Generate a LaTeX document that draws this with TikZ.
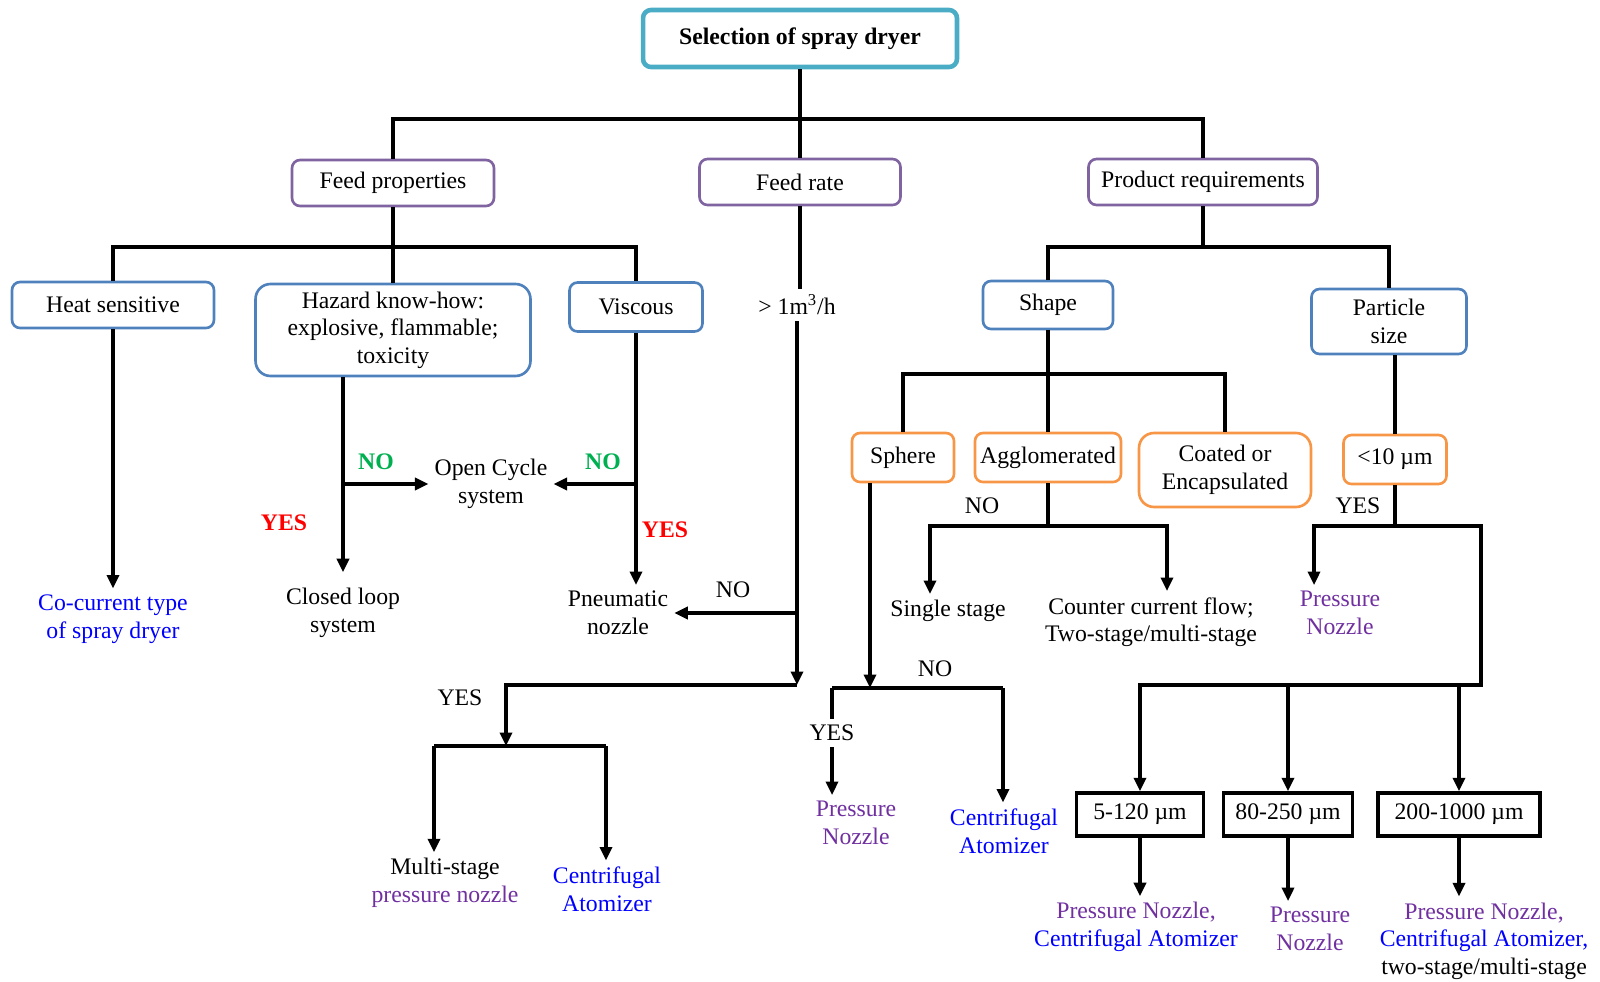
\documentclass[tikz,border=0pt]{standalone}
\usepackage{fontspec}
\setmainfont{Liberation Serif}
\usepackage{tikz}
\usetikzlibrary{arrows.meta,positioning}
\definecolor{rootc}{HTML}{4BACC6}
\definecolor{catc}{HTML}{8064A2}
\definecolor{propc}{HTML}{4F81BD}
\definecolor{optc}{HTML}{F79646}
\definecolor{btext}{HTML}{0000FF}
\definecolor{ptext}{HTML}{7030A0}
\definecolor{gtext}{HTML}{00B050}

\begin{document}
\begin{tikzpicture}[x=0.02cm,y=-0.02cm,font=\fontsize{13.5}{15.7}\selectfont,
  box/.style={draw,rounded corners=0.16cm,line width=1.5pt,align=center,inner sep=0pt},
  rootbox/.style={box,draw=rootc,line width=2.6pt,font=\fontsize{13.5}{15.7}\selectfont\bfseries},
  catbox/.style={box,draw=catc},
  propbox/.style={box,draw=propc},
  optbox/.style={box,draw=optc},
  sizebox/.style={draw,line width=2pt,inner sep=0pt},
  txt/.style={align=center},
  line/.style={line width=1.9pt},
  arr/.style={line,-{Triangle[length=0.27cm,width=0.24cm]}},
  yeslbl/.style={text=red,font=\fontsize{13.5}{15.7}\selectfont\bfseries},
  nolbl/.style={text=gtext,font=\fontsize{13.5}{15.7}\selectfont\bfseries}]
  \useasboundingbox (0,0) rectangle (1600,981);
  \node[rootbox,minimum width=6.28cm,minimum height=1.14cm] (root) at (800,38.5) {Selection of spray dryer};
  \node[catbox,minimum width=4.04cm,minimum height=0.92cm] (fp) at (393,183) {Feed properties};
  \node[catbox,minimum width=4.02cm,minimum height=0.92cm] (fr) at (800,182) {Feed rate};
  \node[catbox,minimum width=4.58cm,minimum height=0.92cm] (pr) at (1203,182) {Product requirements};
  \node[propbox,minimum width=4.04cm,minimum height=0.92cm] (hs) at (113,305) {Heat sensitive};
  \node[propbox,rounded corners=0.3cm,minimum width=5.5cm,minimum height=1.84cm] (hz) at (393,330) {Hazard know-how:\\explosive, flammable;\\toxicity};
  \node[propbox,minimum width=2.66cm,minimum height=0.98cm] (vs) at (636,307) {Viscous};
  \node[propbox,minimum width=2.6cm,minimum height=0.96cm] (sh) at (1048,305) {Shape};
  \node[propbox,minimum width=3.1cm,minimum height=1.3cm] (ps) at (1389,321.5) {Particle\\size};
  \node[optbox,minimum width=2.04cm,minimum height=0.98cm] (sp) at (903,457.5) {Sphere};
  \node[optbox,minimum width=2.92cm,minimum height=0.98cm] (ag) at (1048,457.5) {Agglomerated};
  \node[optbox,rounded corners=0.3cm,minimum width=3.44cm,minimum height=1.48cm] (ce) at (1225,470) {Coated or\\Encapsulated};
  \node[optbox,minimum width=2.06cm,minimum height=0.98cm] (lt) at (1395,459.5) {<10 µm};
  \node[sizebox,minimum width=2.54cm,minimum height=0.86cm] (s1) at (1140,814.5) {5-120 µm};
  \node[sizebox,minimum width=2.58cm,minimum height=0.86cm] (s2) at (1288,814.5) {80-250 µm};
  \node[sizebox,minimum width=3.24cm,minimum height=0.86cm] (s3) at (1459,814.5) {200-1000 µm};
  \node[txt,text=btext] (cc) at (113,619) {Co-current type\\of spray dryer};
  \node[txt] (cl) at (343,613) {Closed loop\\system};
  \node[txt] (oc) at (491,484) {Open Cycle\\system};
  \node[txt] (pn) at (618,613) {Pneumatic\\nozzle};
  \node[txt] (rt) at (797,305) {> 1m\textsuperscript{3}/h};
  \node[txt] (mp) at (445,883) {Multi-stage\\\textcolor{ptext}{pressure nozzle}};
  \node[txt,text=btext] (ca1) at (607,889) {Centrifugal\\Atomizer};
  \node[txt] (ss) at (948,611) {Single stage};
  \node[txt] (cf) at (1151,622) {Counter current flow;\\Two-stage/multi-stage};
  \node[txt,text=ptext] (pn2) at (856,823) {Pressure\\Nozzle};
  \node[txt,text=btext] (ca2) at (1004,831) {Centrifugal\\Atomizer};
  \node[txt,text=ptext] (pn3) at (1340,613) {Pressure\\Nozzle};
  \node[txt] (t1) at (1136,927) {\textcolor{ptext}{Pressure Nozzle,}\\\textcolor{btext}{Centrifugal Atomizer}};
  \node[txt,text=ptext] (t2) at (1310,929) {Pressure\\Nozzle};
  \node[txt] (t3) at (1484,941) {\textcolor{ptext}{Pressure Nozzle,}\\\textcolor{btext}{Centrifugal Atomizer,}\\two-stage/multi-stage};
  \node[nolbl] (no1) at (376,462) {NO};
  \node[nolbl] (no2) at (603,462) {NO};
  \node[yeslbl] (yes1) at (284,523) {YES};
  \node[yeslbl] (yes2) at (665,530) {YES};
  \node (no3) at (733,590) {NO};
  \node (yes3) at (460,698) {YES};
  \node (no4) at (982,506) {NO};
  \node (no5) at (935,669) {NO};
  \node (yes4) at (832,733) {YES};
  \node (yes5) at (1358,506) {YES};
  \coordinate (rb) at (800,119);
  \coordinate (fb) at (393,247);
  \coordinate (pb) at (1203,247);
  \coordinate (sb) at (1048,374);
  \coordinate (abl) at (930,526);
  \coordinate (abr) at (1167,526);
  \coordinate (fy) at (797,685);
  \coordinate (mb) at (506,746);
  \coordinate (mbl) at (434,746);
  \coordinate (mbr) at (606,746);
  \coordinate (sy) at (870,688);
  \coordinate (sl) at (832,688);
  \coordinate (sr) at (1003,688);
  \coordinate (lbl) at (1314,526);
  \coordinate (lbr) at (1481,526);
  \coordinate (kb) at (1481,685);
  \draw[line] (root) -- (fr);
  \draw[line] (fp) |- (rb) -| (pr);
  \draw[line] (fp) -- (hz);
  \draw[line] (hs) |- (fb) -| (vs);
  \draw[arr] (hs) -- (cc);
  \draw[arr,shorten >=0.2cm] (hz.south -| cl) -- (cl);
  \draw[arr] (cl |- oc) -- (oc);
  \draw[arr] (vs) -- (vs |- pn.north);
  \draw[arr] (vs |- oc) -- (oc);
  \draw[line] (fr) -- (fr |- rt.north);
  \draw[arr] (rt) -- (fy);
  \draw[arr] (rt |- pn) -- (pn);
  \draw[arr] (fy) -| (mb);
  \draw[line] (mbl) -- (mbr);
  \draw[arr] (mbl) -- (mbl |- mp.north);
  \draw[arr] (mbr) -- (mbr |- ca1.north);
  \draw[line] (pr) -- (pb);
  \draw[line] (sh) |- (pb) -| (ps);
  \draw[line] (sh) -- (ag);
  \draw[line] (sp) |- (sb) -| (ce);
  \draw[line] (ps.south -| lt) -- (lt);
  \draw[arr] (ag) |- (abl) -- (abl |- ss.north);
  \draw[arr] (ag) |- (abr) -- (abr |- cf.north);
  \draw[arr] (sp.south -| sy) -- (sy);
  \draw[line] (sl) -- (sr);
  \draw[line] (sl) -- (yes4);
  \draw[arr] (yes4) -- (sl |- pn2.north);
  \draw[arr] (sr) -- (sr |- ca2.north);
  \draw[arr] (lt) |- (lbl) -- (lbl |- pn3.north);
  \draw[arr] (lt) |- (lbr) -- (kb) -| (s1);
  \draw[arr] (kb -| s2) -- (s2);
  \draw[arr] (kb -| s3) -- (s3);
  \draw[arr] (s1) -- (s1 |- t1.north);
  \draw[arr] (s2) -- (s2 |- t2.north);
  \draw[arr] (s3) -- (s3 |- t3.north);
\end{tikzpicture}
\end{document}
